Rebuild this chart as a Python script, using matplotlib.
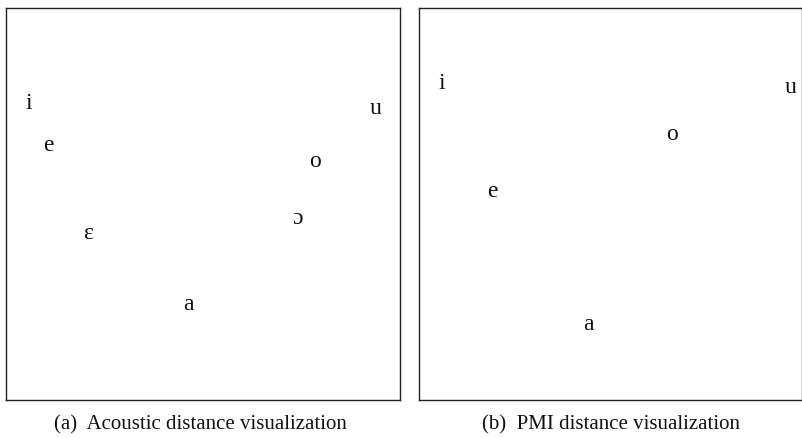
import matplotlib
matplotlib.use("Agg")
import matplotlib.pyplot as plt

plt.rcParams['font.family'] = ['Liberation Serif', 'DejaVu Serif']

# Panel (a): acoustic distance
vowels_a = ['i', 'e', 'ɛ', 'a', 'ɔ', 'o', 'u']
x_a = [0.058, 0.107, 0.208, 0.462, 0.739, 0.784, 0.939]
y_a = [0.742, 0.636, 0.411, 0.230, 0.449, 0.595, 0.729]

# Panel (b): PMI distance
vowels_b = ['i', 'u', 'o', 'e', 'a']
x_b = [0.060, 0.969, 0.661, 0.191, 0.441]
y_b = [0.793, 0.784, 0.662, 0.517, 0.179]

captions = ['(a)  Acoustic distance visualization', '(b)  PMI distance visualization']

W, H = 803, 438
fig = plt.figure(figsize=(W / 100, H / 100), dpi=100)

ax1 = fig.add_axes([6 / W, (H - 400) / H, 394 / W, 392 / H])
ax2 = fig.add_axes([419 / W, (H - 400) / H, 383 / W, 392 / H])

for ax, labels, xs, ys in [(ax1, vowels_a, x_a, y_a), (ax2, vowels_b, x_b, y_b)]:
    ax.set_xlim(0, 1)
    ax.set_ylim(0, 1)
    ax.set_xticks([])
    ax.set_yticks([])
    for s in ax.spines.values():
        s.set_linewidth(1.0)
        s.set_color('#222222')
    for lab, x, y in zip(labels, xs, ys):
        ax.text(x, y, lab, ha='center', va='baseline', fontsize=17, color='#111111')

fig.text(200 / W, 1 - 425 / H, captions[0], ha='center', va='center', fontsize=15, color='#111111')
fig.text(611 / W, 1 - 425 / H, captions[1], ha='center', va='center', fontsize=15, color='#111111')

fig.savefig('out.png', dpi=100)
